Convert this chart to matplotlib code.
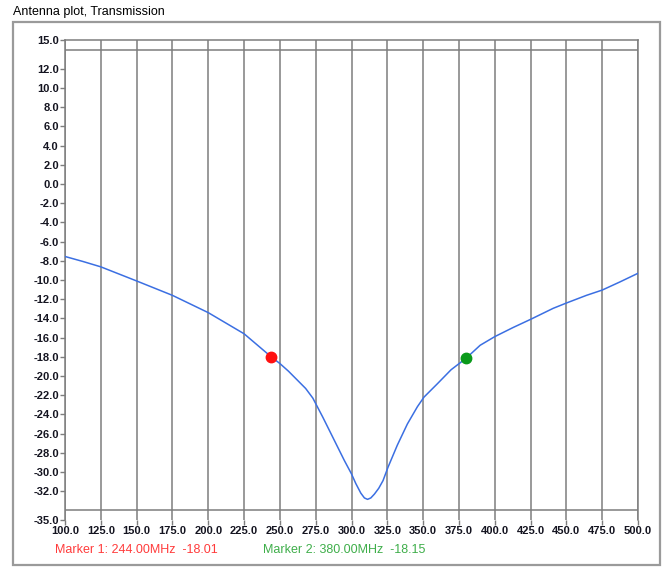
import matplotlib.pyplot as plt
from matplotlib.patches import Rectangle
import numpy as np

# transmission trace
freq = [100, 112.5, 125, 150, 175, 200, 225, 244, 250, 256, 262, 268, 273, 280, 286,
        291, 295, 300, 303, 306.5, 309, 311.2, 313.5, 316, 319, 322, 325.5, 332, 339,
        346, 350.6, 360, 369.5, 380, 389.8, 400, 412.8, 425, 440.8, 450, 464, 475,
        487.4, 500]
gain = [-7.55, -8.07, -8.63, -10.1, -11.6, -13.4, -15.6, -18.01, -18.7, -19.5, -20.4,
        -21.3, -22.3, -24.3, -26.1, -27.6, -28.8, -30.2, -31.2, -32.2, -32.7, -32.85,
        -32.7, -32.3, -31.7, -30.9, -29.5, -27.2, -25.0, -23.2, -22.2, -20.8, -19.35,
        -18.15, -16.8, -15.9, -14.95, -14.1, -12.95, -12.4, -11.6, -11.05, -10.2, -9.3]

marker_freq = [244.0, 380.0]
marker_gain = [-18.01, -18.15]
marker_colors = ['#ff1010', '#0a9a1a']
marker_text_colors = ['#ff3b3b', '#3fae4a']

x_ticks = np.arange(100, 501, 25)
y_ticks = [15, 12, 10, 8, 6, 4, 2, 0, -2, -4, -6, -8, -10, -12, -14, -16, -18, -20,
           -22, -24, -26, -28, -30, -32, -35]
y_grid = np.arange(-34, 15, 2)

plt.rcParams['font.family'] = ['Liberation Sans', 'DejaVu Sans']

fig = plt.figure(figsize=(6.7, 5.67), dpi=100)
ax = fig.add_axes([65 / 670, 1 - 520 / 567, 573 / 670, 480 / 567])

grid_col = '#7d7d7d'
ax.plot(freq, gain, color='#3b6fe2', lw=1.1, zorder=3)
for f, g, c in zip(marker_freq, marker_gain, marker_colors):
    ax.plot(f, g, 'o', color=c, ms=7.5, zorder=4)

ax.set_xlim(100, 500)
ax.set_ylim(-35, 15)
ax.set_xticks(x_ticks)
ax.set_xticklabels(['%.1f' % v for v in x_ticks])
ax.set_yticks(y_ticks)
ax.set_yticklabels(['%.1f' % v for v in y_ticks])
ax.set_yticks(y_grid, minor=True)

ax.grid(True, axis='x', which='major', color=grid_col, lw=1.1)
ax.grid(True, axis='y', which='minor', color=grid_col, lw=1.1)
ax.tick_params(axis='y', which='minor', length=0)
ax.tick_params(axis='both', which='major', length=3.5, width=1.0, color=grid_col,
               labelsize=8, pad=1)
for lab in ax.get_xticklabels() + ax.get_yticklabels():
    lab.set_fontweight('bold')
    lab.set_color('#141420')

for s in ['left', 'top', 'right']:
    ax.spines[s].set_color(grid_col)
    ax.spines[s].set_linewidth(1.1)
ax.spines['bottom'].set_visible(False)

# outer panel frame
fig.patches.append(Rectangle((13 / 670, 1 - 565 / 567), 647 / 670, 543 / 567,
                             transform=fig.transFigure, fill=False,
                             edgecolor='#9a9a9a', lw=1.6))

fig.text(13 / 670, 1 - 12 / 567, 'Antenna plot, Transmission', fontsize=9,
         va='center', ha='left', color='black')
fig.text(55 / 670, 1 - 550 / 567, 'Marker 1: %.2fMHz  %.2f' % (marker_freq[0], marker_gain[0]),
         fontsize=9, va='center', ha='left', color=marker_text_colors[0])
fig.text(263 / 670, 1 - 550 / 567, 'Marker 2: %.2fMHz  %.2f' % (marker_freq[1], marker_gain[1]),
         fontsize=9, va='center', ha='left', color=marker_text_colors[1])

fig.savefig('out.png', dpi=100)
